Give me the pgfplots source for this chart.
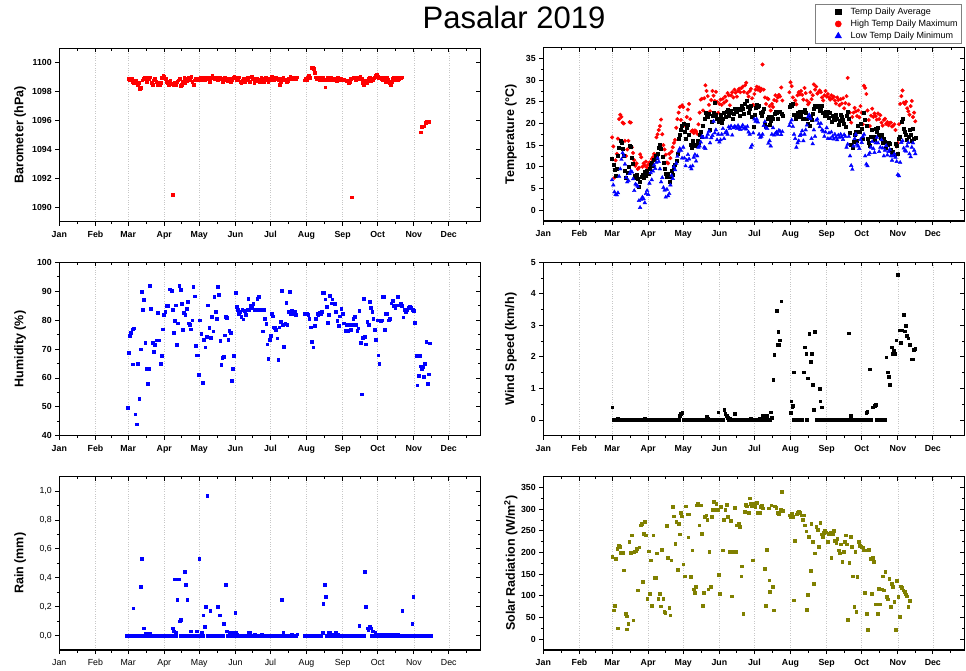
\documentclass[border=0pt]{standalone}
\usepackage{pgfplots}
\pgfplotsset{compat=1.18}
\usepackage{fontspec}
\setmainfont{Liberation Sans}
\definecolor{olv}{RGB}{128,128,0}
\definecolor{rd}{RGB}{255,0,0}
\definecolor{bl}{RGB}{0,0,255}
\pgfplotsset{
 base/.style={scale only axis, width=421pt, height=173.4pt, xmin=0, xmax=361,
   xtick={0,31,59,90,120,151,181,212,243,273,304,334},
   minor xtick={15.5,45,74.5,105,135.5,166,196.5,227.5,258,288.5,319,349.5},
   minor y tick num=1,
   tick style={black, line width=0.8pt},
   major tick length=4pt, minor tick length=2.5pt,
   /pgf/number format/assume math mode=true,
   /pgf/number format/1000 sep={}},
 panel/.style={base,
   xticklabels={Jan,Feb,Mar,Apr,May,Jun,Jul,Aug,Sep,Oct,Nov,Dec},
   xmajorgrids, major grid style={dotted, black!22, line width=0.5pt},
   tick align=outside, xtick pos=left, ytick pos=left,
   axis line style={line width=1.1pt},
   tick label style={font=\bfseries\fontsize{8.8}{10}\selectfont},
   xticklabel style={text height=1.55ex, text depth=0.3ex},
   ylabel style={font=\bfseries\fontsize{12.5}{14}\selectfont, at={(axis description cs:-0.093,0.5)}, anchor=center}},
 rpanel/.style={panel, ylabel style={at={(axis description cs:-0.077,0.5)}}},
 mirror/.style={base, axis line style={draw=none}, tick align=inside, xtick pos=right, ytick pos=right, xticklabels={}, yticklabels={}},
 sq/.style={only marks, mark=square*, mark size=1.35pt},
}
\begin{document}
\begin{tikzpicture}[x=1pt,y=1pt]
\path[use as bounding box] (0,0) rectangle (966,670);
\node[font=\fontsize{31}{36}\selectfont] at (514,653) {Pasalar 2019};
% ---------------- Barometer
\begin{axis}[panel, at={(59.3pt,448.3pt)}, anchor=south west, ymin=1089, ymax=1101, ytick={1090,1092,...,1100}, ylabel={Barometer (hPa)}]
\addplot[sq, color=rd] coordinates {(59,1098.9)(60,1098.85)(61,1098.8)(62,1098.9)(63,1098.7)(64,1098.6)(65,1098.75)(66,1098.8)(67,1098.5)(68,1098.6)(69,1098.2)(70,1098.25)(71,1098.8)(72,1098.9)(73,1099.0)(74,1098.95)(75,1098.7)(76,1099.0)(77,1098.9)(78,1099.0)(79,1098.6)(80,1098.5)(81,1098.8)(82,1098.9)(83,1098.7)(84,1098.5)(85,1098.6)(86,1098.45)(87,1098.6)(88,1098.95)(89,1099.1)(90,1099.05)(91,1098.9)(92,1098.7)(93,1098.6)(94,1098.5)(95,1098.8)(96,1098.55)(97,1090.85)(98,1098.45)(99,1098.6)(100,1098.5)(101,1098.7)(102,1098.8)(103,1098.9)(104,1098.4)(105,1098.5)(106,1098.7)(107,1098.95)(108,1098.6)(109,1098.75)(110,1098.9)(111,1099.0)(112,1098.85)(113,1099.05)(114,1098.7)(115,1098.5)(116,1098.8)(117,1098.9)(118,1098.85)(119,1098.9)(120,1098.8)(121,1099.0)(122,1098.85)(123,1098.9)(124,1098.95)(125,1098.85)(126,1098.9)(127,1099.0)(128,1098.9)(129,1098.7)(130,1098.95)(131,1099.1)(132,1099.0)(133,1098.9)(134,1098.95)(135,1099.0)(136,1098.8)(137,1098.9)(138,1099.0)(139,1098.9)(140,1098.7)(141,1098.85)(142,1099.0)(143,1098.9)(144,1098.75)(145,1098.8)(146,1098.9)(147,1098.7)(148,1098.85)(149,1099.0)(150,1099.05)(151,1098.95)(152,1098.85)(153,1098.9)(154,1099.0)(155,1098.7)(156,1098.6)(157,1098.8)(158,1098.9)(159,1098.65)(160,1098.85)(161,1098.95)(162,1098.8)(163,1098.7)(164,1099.0)(165,1099.05)(166,1098.9)(167,1098.6)(168,1098.8)(169,1098.9)(170,1098.75)(171,1098.85)(172,1098.7)(173,1098.95)(174,1098.8)(175,1098.65)(176,1098.9)(177,1099.0)(178,1098.85)(179,1098.7)(180,1098.9)(181,1098.8)(182,1099.05)(183,1098.95)(184,1098.85)(185,1098.9)(186,1099.0)(187,1098.9)(188,1098.8)(189,1098.5)(190,1098.7)(191,1098.9)(192,1098.95)(193,1098.85)(194,1098.8)(195,1098.7)(196,1098.75)(197,1098.9)(198,1099.05)(199,1099.0)(200,1098.9)(201,1098.95)(202,1099.0)(203,1098.9)(204,1099.0)
(210,1098.8)(211,1098.9)(212,1098.85)(213,1099.0)(214,1099.1)(215,1098.95)(216,1099.65)(217,1099.7)(218,1099.6)(219,1099.3)(220,1099.0)(221,1098.9)(222,1099.0)(223,1098.85)(224,1098.95)(225,1098.9)(226,1099.0)(227,1098.8)(228,1098.3)(229,1098.85)(230,1099.0)(231,1098.9)(232,1098.8)(233,1098.95)(234,1098.85)(235,1098.8)(236,1098.9)(237,1098.8)(238,1098.75)(239,1098.95)(240,1098.8)(241,1098.9)(242,1098.8)(243,1098.8)(244,1098.85)(245,1098.8)(246,1098.75)(247,1098.8)(248,1098.6)(249,1098.65)(250,1098.9)(251,1090.7)(252,1098.95)(253,1099.0)(254,1098.85)(255,1098.95)(256,1099.0)(257,1098.9)(258,1099.05)(259,1098.9)(260,1098.6)(261,1098.5)(262,1098.75)(263,1098.8)(264,1098.6)(265,1098.9)(266,1099.0)(267,1098.75)(268,1098.9)(269,1098.8)(270,1098.95)(271,1099.1)(272,1099.15)(273,1099.05)(274,1098.95)(275,1099.0)(276,1098.9)(277,1098.85)(278,1099.0)(279,1098.8)(280,1098.7)(281,1098.95)(282,1098.85)(283,1098.6)(284,1098.5)(285,1098.7)(286,1098.9)(287,1099.0)(288,1098.85)(289,1098.95)(290,1098.8)(291,1098.9)(292,1099.0)(293,1098.95)(294,1099.0)
(310,1095.2)(311,1095.55)(312,1095.6)(313,1095.6)(314,1095.85)(315,1095.9)(316,1095.9)(317,1095.9)};
\end{axis}
\begin{axis}[mirror, at={(59.3pt,448.3pt)}, anchor=south west, ymin=1089, ymax=1101, ytick={1090,1092,...,1100}]
\end{axis}
% ---------------- Temperature
\begin{axis}[rpanel, at={(543.3pt,449pt)}, anchor=south west, ymin=-2.5, ymax=37.5, ytick={0,5,...,35}, ylabel={Temperature (°C)},
  legend style={at={(0.6446,1.2507)}, anchor=north west, font=\fontsize{9}{10}\selectfont, draw=black!50, line width=0.6pt, inner xsep=2pt, inner ysep=1.5pt, row sep=0pt, cells={anchor=west}},
  legend image code/.code={\path (0pt,0pt) (31pt,0pt); \draw[#1] plot coordinates {(21pt,0pt)};}]
\addlegendimage{only marks, mark=square*, mark size=2.6pt, black}
\addlegendentry{Temp Daily Average}
\addlegendimage{only marks, mark=*, mark size=3pt, rd}
\addlegendentry{High Temp Daily Maximum}
\addlegendimage{only marks, mark=triangle*, mark size=3.6pt, bl}
\addlegendentry{Low Temp Daily Minimum}
\addplot[forget plot, only marks, mark=*, mark size=1.8pt, color=rd] coordinates {(59,16.8)(60,14.7)(61,7.5)(62,11.5)(63,13)(64,16.5)(65,21)(66,22)(67,21.5)(68,20.2)(69,20)(70,16)(71,12.5)(72,14)(73,16)(74,20.3)(75,20.2)(76,14.5)(77,13.2)(78,11.5)(79,10.2)(80,10.8)(81,9.5)(82,9.8)(83,12.9)(84,12.2)(85,10)(86,10.8)(87,10.3)(88,11.2)(89,9.8)(90,10.5)(91,11)(92,10.3)(93,11.8)(94,12.2)(95,13)(96,12.5)(97,16.8)(98,17.5)(99,18.5)(100,19.4)(101,20.9)(102,17.5)(103,15)(104,14)(105,12.8)(106,11)(107,10.8)(108,13)(109,12)(110,13.5)(111,14.5)(112,15.5)(113,16.2)(114,19)(115,21)(116,22.5)(117,23.8)(118,20.8)(119,24.2)(120,23.8)(121,20)(122,19.4)(123,21.5)(124,23.2)(125,24.5)(126,21)(127,18.2)(128,18.4)(129,17.8)(130,18.4)(131,18.2)(132,17.6)(133,19.8)(134,22.5)(135,25.5)(136,25.7)(137,23)(138,25.8)(139,28.8)(140,27.5)(141,26.3)(142,24.3)(143,22.8)(144,25.4)(145,27.5)(146,26.4)(147,25.2)(148,27.3)(149,25)(150,22.5)(151,24.5)(152,25.5)(153,24.3)(154,25.7)(155,24.8)(156,26.2)(157,25.2)(158,27)(159,26.5)(160,24.2)(161,26.5)(162,27.2)(163,26)(164,27.8)(165,27.1)(166,26.2)(167,27.5)(168,28)(169,27.2)(170,28.2)(171,28.5)(172,27.3)(173,28.8)(174,29.4)(175,27)(176,26.2)(177,27.5)(178,28)(179,25.8)(180,24.3)(181,26.8)(182,27.8)(183,28.5)(184,27.8)(185,28.3)(186,27.5)(187,28)(188,33.6)(189,27.8)(190,26)(191,24.5)(192,25.8)(193,25.6)(194,24)(195,23)(196,24.5)(197,23.8)(198,25.4)(199,26.5)(200,25.2)(201,26)(202,26.6)(203,26.2)(204,28.3)(205,25.3)(211,27.2)(212,29.5)(213,28.6)(214,26)(215,24.5)(216,25.3)(217,24.4)(218,26.5)(219,27.2)(220,26.7)(221,27.5)(222,26.6)(223,25.5)(224,28.2)(225,27)(226,25.3)(227,24.4)(228,24.8)(229,27.2)(230,25.6)(231,26.5)(232,29)(233,27.8)(234,28.5)(235,26.9)(236,27.2)(237,27.6)(238,27.2)(239,26)(240,25.3)(241,26.5)(242,27.5)(243,26.2)(244,26.8)(245,26)(246,25.5)(247,26.5)(248,25.8)(249,26.2)(250,25.3)(251,24.6)(252,26)(253,25.4)(254,24.2)(255,25.6)(256,24.6)(257,25.8)(258,23.5)(259,24.7)(260,26.3)(261,30.5)(262,24.4)(263,22.5)(264,20.2)(265,21.5)(266,22.5)(267,23.6)(268,22.8)(269,21.7)(270,23)(271,21.4)(272,24)(273,22.5)(274,19.8)(275,28.7)(276,28.2)(277,26.8)(278,23)(279,20.8)(280,19.4)(281,21.8)(282,23.4)(283,21.5)(284,22.3)(285,21.7)(286,20.9)(287,22.3)(288,21)(289,21.9)(290,20.2)(291,19.5)(292,20.8)(293,21.1)(294,19.9)(295,20.3)(296,19.6)(297,20.1)(298,20.2)(299,19.3)(300,19.5)(301,19.8)(302,18.5)(303,14.7)(304,15.5)(305,19.8)(306,24.5)(307,26.3)(308,27.6)(309,24.8)(310,24.5)(311,25)(312,23.5)(313,22.8)(314,22)(315,24)(316,25.2)(317,21.5)(318,22.5)(319,20.5)};
\addplot[forget plot, only marks, mark=square*, mark size=1.5pt, color=black] coordinates {(59,11.8)(60,10.5)(61,9.3)(62,8)(63,9.5)(64,12.5)(65,14.5)(66,16)(67,15.5)(68,14.2)(69,12.6)(70,9)(71,7.5)(72,8.6)(73,10)(74,14.8)(75,14.6)(76,12)(77,10.8)(78,8)(79,7.6)(80,8.2)(81,7.2)(82,5.5)(83,6.5)(84,7.8)(85,8.2)(86,7.5)(87,8.8)(88,8)(89,9.2)(90,8.5)(91,9.5)(92,10.5)(93,11)(94,10.2)(95,11.6)(96,12.5)(97,12.2)(98,13)(99,14.5)(100,15)(101,14.2)(102,12.3)(103,11)(104,9.5)(105,8.5)(106,7.8)(107,8.5)(108,6.5)(109,7.7)(110,9)(111,8.2)(112,10)(113,10.5)(114,11.5)(115,13)(116,16.5)(117,17.5)(118,18.5)(119,19.5)(120,20)(121,18)(122,16.5)(123,19)(124,19.6)(125,17.5)(126,15)(127,14.5)(128,16)(129,15)(130,14.8)(131,15.2)(132,16)(133,15.5)(134,17.5)(135,18)(136,17)(137,19.5)(138,21)(139,22.5)(140,22)(141,21.5)(142,22.3)(143,18.5)(144,20.5)(145,21.8)(146,22.5)(147,24.7)(148,22)(149,21)(150,20.5)(151,21.2)(152,22)(153,20.2)(154,21)(155,22.4)(156,21.5)(157,22.6)(158,23.2)(159,21.8)(160,22.5)(161,23)(162,21)(163,22.2)(164,23.4)(165,22.8)(166,22.6)(167,23.5)(168,21.8)(169,23.2)(170,24)(171,23.4)(172,22.2)(173,24.5)(174,25.2)(175,23.8)(176,22.5)(177,23.5)(178,24.2)(179,21.5)(180,19.2)(181,22)(182,23.6)(183,24.3)(184,23.8)(185,24)(186,22.5)(187,21.7)(188,22.8)(189,23.5)(190,20)(191,19.2)(192,21)(193,21.5)(194,19.8)(195,20.6)(196,21.5)(197,21.2)(198,22.3)(199,22.8)(200,22.5)(201,21)(202,22.6)(203,22.7)(204,22.2)(205,21.8)(211,23.8)(212,24.4)(213,24)(214,24.6)(215,22)(216,21)(217,21.5)(218,22.5)(219,21.5)(220,22.6)(221,22)(222,21)(223,22.7)(224,23.1)(225,22.5)(226,21.2)(227,20)(228,19.5)(229,21.4)(230,20.8)(231,22.3)(232,23.5)(233,24.2)(234,24)(235,23.8)(236,24.2)(237,22.9)(238,23.3)(239,24.1)(240,22.5)(241,21.8)(242,22.8)(243,22)(244,22.6)(245,21.3)(246,22.5)(247,20.5)(248,21.9)(249,21.2)(250,20.8)(251,22)(252,21.2)(253,19.8)(254,20.6)(255,22)(256,21.5)(257,20.8)(258,20)(259,19.2)(260,21.7)(261,22.6)(262,21)(263,17.8)(264,15)(265,14.5)(266,15.8)(267,17.5)(268,18.2)(269,16)(270,19.5)(271,18)(272,20)(273,18.7)(274,16.5)(275,22.4)(276,20.8)(277,19.5)(278,16.5)(279,15.5)(280,14.8)(281,17)(282,18.5)(283,17)(284,16.3)(285,18.8)(286,18)(287,19)(288,17.5)(289,16.8)(290,17.5)(291,15.5)(292,16.5)(293,15.8)(294,14.5)(295,15)(296,15.6)(297,15.3)(298,14)(299,13.2)(300,13.6)(301,12.8)(302,15.3)(303,14.8)(304,13)(305,16.5)(306,17)(307,20.5)(308,21)(309,18.8)(310,18)(311,17.5)(312,16.2)(313,17)(314,18.5)(315,17.5)(316,16)(317,18.8)(318,16.5)(319,16.8)};
\addplot[forget plot, only marks, mark=triangle*, mark size=2.1pt, color=bl] coordinates {(59,7)(60,5.8)(61,4.2)(62,3.6)(63,3.5)(64,4)(65,7.8)(66,9.5)(67,11.7)(68,13.2)(69,12.5)(70,10.6)(71,7.5)(72,6.5)(73,6.8)(74,8.4)(75,9)(76,8.8)(77,7.2)(78,4.5)(79,6)(80,5.8)(81,5.5)(82,2.2)(83,0.6)(84,2.5)(85,3)(86,2.6)(87,1.7)(88,3.8)(89,4.5)(90,3.6)(91,6.2)(92,8.6)(93,7)(94,9)(95,10.4)(96,9.6)(97,11)(98,12)(99,11.2)(100,9.5)(101,6.5)(102,7.5)(103,5.2)(104,4.6)(105,3)(106,4.8)(107,3.3)(108,3.8)(109,5.8)(110,8)(111,7.3)(112,10)(113,9.3)(114,10.8)(115,12.4)(116,13.6)(117,14.2)(118,13.8)(119,12)(120,14.5)(121,12)(122,10.2)(123,11.5)(124,12.8)(125,11.8)(126,10)(127,9.5)(128,10.2)(129,12.2)(130,12.8)(131,11.3)(132,12.5)(133,14.5)(134,14.8)(135,15.7)(136,17)(137,16.8)(138,14.5)(139,14.2)(140,16.8)(141,17.5)(142,18.2)(143,15.5)(144,16.7)(145,17.2)(146,20.5)(147,17.8)(148,18.5)(149,16.2)(150,17.5)(151,15.7)(152,16.2)(153,17.5)(154,18.8)(155,16.5)(156,17.8)(157,18.2)(158,17.5)(159,19.2)(160,18.8)(161,19.4)(162,17.3)(163,19)(164,19.3)(165,19.2)(166,18.8)(167,19.5)(168,19)(169,18.6)(170,19.2)(171,19.6)(172,18.8)(173,19.1)(174,18.7)(175,19.3)(176,18)(177,17.5)(178,14.5)(179,15)(180,17.8)(181,21)(182,20.5)(183,21)(184,20.3)(185,17.5)(186,16.8)(187,17)(188,17.5)(189,19.5)(190,20.4)(191,19)(192,18.8)(193,15.4)(194,16)(195,14.8)(196,17.5)(197,19)(198,17.3)(199,17.7)(200,18)(201,17.5)(202,18.4)(203,18.2)(204,17.4)(205,18.1)(211,19.5)(212,20.2)(213,20.8)(214,19.3)(215,17.5)(216,16.5)(217,14.5)(218,15.5)(219,16)(220,17.2)(221,17.5)(222,18.3)(223,16)(224,17.5)(225,18.5)(226,19.6)(227,21.5)(228,22)(229,21.2)(230,16.5)(231,15.3)(232,18.5)(233,17)(234,20.7)(235,21)(236,20)(237,19.2)(238,20)(239,18.5)(240,18.2)(241,17)(242,18)(243,19)(244,16.5)(245,17.8)(246,16.5)(247,18)(248,17)(249,16.4)(250,17.5)(251,16.8)(252,16.2)(253,17.3)(254,16.8)(255,17.5)(256,16.9)(257,16.3)(258,17.4)(259,17)(260,14.5)(261,15.2)(262,17)(263,12.5)(264,10.3)(265,9.4)(266,14.8)(267,16.5)(268,17.5)(269,15.2)(270,14.8)(271,14.2)(272,16.3)(273,15.6)(274,17)(275,17.5)(276,12.5)(277,10.6)(278,10.2)(279,12.8)(280,13.2)(281,14.5)(282,15.8)(283,14.2)(284,13.3)(285,15.5)(286,16.8)(287,15.5)(288,13.5)(289,14.5)(290,16.2)(291,14.3)(292,12.5)(293,13.8)(294,14.9)(295,12.7)(296,13.5)(297,14)(298,12.5)(299,11.5)(300,12.5)(301,13)(302,12.2)(303,11.2)(304,8.2)(305,7.9)(306,11)(307,15.6)(308,16)(309,14.3)(310,13.8)(311,13.6)(312,14.8)(313,15.6)(314,13)(315,12.3)(316,14.5)(317,15.5)(318,13.8)(319,13)};
\end{axis}
\begin{axis}[mirror, at={(543.3pt,449pt)}, anchor=south west, ymin=-2.5, ymax=37.5, ytick={0,5,...,35}]
\end{axis}
% ---------------- Humidity
\begin{axis}[panel, at={(59.3pt,234.3pt)}, anchor=south west, ymin=40, ymax=100, ytick={40,50,...,100}, ylabel={Humidity (\%)}]
\addplot[sq, color=bl] coordinates {(58.6,49.8)(59.7,68.7)(60.6,74.5)(61.4,75.7)(62.9,76.9)(64,77.2)(62.9,64.7)(65.1,47.4)(66.3,44)(67.4,65)(68.6,52.9)(69.7,69.9)(70.6,89.8)(71.4,83.7)(72.6,87)(73.7,72.2)(74.9,63.3)(75.7,58.1)(76.6,63.3)(77.7,91.8)(78.6,84)(80,72.2)(81,69)(82,71.4)(83.4,73)(84.6,82.6)(85.7,73)(86.9,65)(88,67.6)(88.6,76.9)(89.7,81.8)(90.9,82.9)(92,84.9)(93.4,84.9)(94.9,90.7)(96.3,90.2)(97.1,83.7)(98,75.7)(98.9,79.8)(99.7,85.2)(100.6,71.4)(101.7,78.9)(102.9,91.8)(104,90.4)(104.9,85.6)(105.7,76.8)(106.9,82.6)(108,81.8)(109.1,84)(110,86.4)(110.9,78.9)(112,78.3)(112.9,76.9)(114,80)(114.9,91.6)(116,88.3)(117.1,71.2)(117.7,67.9)(118.9,67.9)(119.4,61)(120.6,80)(121.7,75.4)(122.9,58.3)(124,73.3)(125.1,70.6)(126.3,74.3)(127.4,85.2)(128.6,77.3)(129.7,74)(130.9,81.2)(132,76.2)(132.9,88.1)(134,82.9)(134.9,80.6)(136,91.6)(136.9,88.7)(138,72.9)(138.9,64.5)(139.7,67.1)(140.9,67.3)(141.7,74.8)(142.9,81.2)(143.7,80.8)(144.9,73.3)(145.7,76.3)(146.9,75.7)(148,59)(148.9,63.1)(149.7,67.7)(151.4,89.5)(152,84.7)(152.9,83.5)(153.7,82.3)(154.9,82.9)(156,81.2)(156.9,83.7)(157.7,80.3)(158.9,83.3)(160,81.8)(161.1,83.7)(162,87.5)(162.9,83.7)(164,84.9)(165.1,84.4)(166.3,85.6)(167.4,83.5)(168.6,83.5)(169.7,87.5)(170.9,88.1)(172,83.5)(173.1,83.5)(174.3,76.2)(175.4,83.5)(176.3,80.6)(177.4,78.7)(178.3,71.7)(179.1,66.7)(180.3,73.3)(181.1,74.5)(182,82.3)(182.9,81.4)(184,77.5)(184.9,77.3)(185.7,76.8)(186.9,73.7)(187.7,66.4)(188.6,77.5)(189.7,79.5)(190.9,90.2)(191.7,78.3)(192.6,70.8)(193.7,78.7)(194.6,86)(195.4,78.3)(196.6,82.9)(197.4,89.8)(198.3,82)(199.4,83.3)(200.6,82.1)(201.7,82.8)(202.9,81.9)(210.6,82.3)(212,82.1)(213.4,81.8)(214.3,80.6)(215.4,77.5)(216.6,72.5)(217.7,70.6)(218.9,78)(220,80.6)(221.1,82.1)(222,81.8)(222.9,82.6)(224,82.3)(225.1,82.9)(226,89.6)(226.9,89.6)(228,87.2)(229.1,84.7)(230,79.1)(230.9,81.8)(232,88.5)(233.1,85.8)(234,87.2)(234.9,85.8)(236,85.6)(237.1,82.9)(238.3,79.8)(239.4,78)(240.6,81.4)(241.7,84)(242.9,82.3)(244,78.9)(245.1,76.3)(246.3,78.3)(247.4,76.3)(248.6,78.3)(249.7,76.8)(250.9,78.3)(252,80.6)(253.1,81.2)(254.3,78.3)(255.4,76.3)(256.3,77.2)(257.1,83.3)(258.3,72.2)(259.4,54.4)(260.3,74)(261.1,87.5)(262,74.3)(262.9,71.7)(264,79.5)(265.1,78.3)(266.3,86.4)(267.1,84.4)(268.3,82.9)(269.1,80.6)(270.3,76.6)(271.4,73.3)(272.6,80)(273.4,67.9)(274.3,65)(275.4,79.8)(276.6,80)(277.4,88.1)(278.3,88.1)(279.1,76.6)(280,82.3)(281.1,82.1)(282.3,80)(283.4,80.6)(284.6,85.8)(285.7,86.7)(286.9,84.9)(288,84.4)(289.1,85.2)(290.3,88.1)(291.4,85.2)(292.6,85.6)(293.7,84.9)(294.9,81)(296,83.5)(297.1,82.9)(298.3,83.7)(299.4,84.4)(300.6,84.7)(301.7,84.4)(302.9,83.5)(304,83.2)(304.9,79.1)(306,67.6)(306.9,57.5)(308,60.7)(309.1,67.6)(309.7,64.1)(310.6,63.3)(311.4,63.9)(312.6,60.4)(313.4,64.8)(314.6,72.5)(315.7,57.9)(316.6,61.3)(317.7,72)};
\end{axis}
\begin{axis}[mirror, at={(59.3pt,234.3pt)}, anchor=south west, ymin=40, ymax=100, ytick={40,50,...,100}]
\end{axis}
% ---------------- Wind speed
\begin{axis}[rpanel, at={(543.3pt,234.3pt)}, anchor=south west, ymin=-0.5, ymax=5, ytick={0,1,...,5}, ylabel={Wind Speed (km/h)}]
\addplot[sq, color=black] coordinates {(60,0)(61,0)(62,0)(63,0)(64,0)(65,0)(66,0)(67,0)(68,0)(69,0)(70,0)(71,0)(72,0)(73,0)(74,0)(75,0)(76,0)(77,0)(78,0)(79,0)(80,0)(81,0)(82,0)(83,0)(84,0)(85,0)(86,0)(87,0)(88,0)(89,0)(90,0)(91,0)(92,0)(93,0)(94,0)(95,0)(96,0)(97,0)(98,0)(99,0)(100,0)(101,0)(102,0)(103,0)(104,0)(105,0)(106,0)(107,0)(108,0)(109,0)(110,0)(111,0)(112,0)(113,0)(114,0)(115,0)(116,0)(120,0)(121,0)(122,0)(123,0)(124,0)(125,0)(126,0)(127,0)(128,0)(129,0)(130,0)(131,0)(132,0)(133,0)(134,0)(135,0)(136,0)(137,0)(138,0)(139,0)(142,0)(143,0)(144,0)(145,0)(146,0)(147,0)(148,0)(149,0)(151,0)(152,0)(153,0)(154,0)(159,0)(161,0)(162,0)(163,0)(165,0)(166,0)(167,0)(168,0)(169,0)(170,0)(171,0)(172,0)(173,0)(174,0)(175,0)(176,0)(177,0)(179,0)(180,0)(181,0)(182,0)(183,0)(184,0)(186,0)(187,0)(189,0)(191,0)(193,0)(194,0)(215,0)(216,0)(217,0)(218,0)(219,0)(220,0)(221,0)(222,0)(226,0)(234,0)(235,0)(236,0)(238,0)(240,0)(241,0)(242,0)(243,0)(244,0)(245,0)(246,0)(247,0)(248,0)(249,0)(250,0)(251,0)(252,0)(253,0)(254,0)(255,0)(256,0)(257,0)(258,0)(259,0)(260,0)(261,0)(264,0)(265,0)(266,0)(267,0)(268,0)(269,0)(270,0)(271,0)(272,0)(273,0)(274,0)(275,0)(276,0)(278,0)(279,0)(281,0)(286,0)(287,0)(288,0)(289,0)(290,0)(291,0)(292,0)(293,0)
(59,0.4)(64,0.05)(87,0.05)(117,0.14)(118,0.19)(119,0.22)(140,0.12)(141,0.05)(150,0.25)(155,0.32)(156,0.19)(157,0.14)(158,0.08)(160,0.03)(164,0.19)(178,0.05)(185,0.05)(188,0.14)(190,0.14)(192,0.14)(195,0.25)(196,0.08)(197,1.27)(198,2.06)(200,3.46)(201,2.38)(201.5,2.79)(202,2.38)(203,2.53)(204,3.77)(212,0.24)(212.6,0.59)(213.5,0.4)(214,0.45)(215,1.51)(223,1.51)(224,2.31)(225.5,2.11)(227,1.32)(228,2.73)(229,1.85)(230,2.11)(231,1.12)(232,0.32)(233,2.79)(237,1.0)(237.5,0.59)(239,0.4)(262,2.75)(263.5,0.14)(277,0.22)(277.8,0.27)(280,1.61)(282.6,0.4)(284,0.45)(285,0.49)(294,1.99)(295.5,1.51)(296,1.37)(297,1.12)(298.6,2.31)(299.5,2.11)(300.3,2.2)(301.4,2.11)(302.6,2.53)(304,4.6)(305.5,2.85)(306.6,2.46)(307.5,2.85)(309,3.33)(309.7,2.81)(311,2.98)(311.7,2.67)(312.9,2.59)(314,2.38)(315.4,1.93)(316.6,1.93)(317.7,2.23)(318.9,2.27)};
\end{axis}
\begin{axis}[mirror, at={(543.3pt,234.3pt)}, anchor=south west, ymin=-0.5, ymax=5, ytick={0,1,...,5}]
\end{axis}
% ---------------- Rain
\begin{axis}[panel, at={(59.3pt,20pt)}, anchor=south west, ymin=-0.1, ymax=1.1, ytick={0,0.2,0.4,0.6,0.8,1.0}, ylabel={Rain (mm)},
  yticklabel style={/pgf/number format/.cd, use comma, fixed, fixed zerofill, precision=1},
  tick label style={font=\fontsize{8.8}{10}\selectfont}]
\addplot[sq, color=bl] coordinates {(58,0)(59,0)(60,0)(61,0)(62,0)(63,0)(64,0)(65,0)(66,0)(67,0)(68,0)(69,0)(70,0)(71,0)(72,0)(73,0)(74,0)(75,0)(76,0)(77,0)(78,0)(79,0)(80,0)(81,0)(82,0)(83,0)(84,0)(85,0)(86,0)(87,0)(88,0)(89,0)(90,0)(91,0)(92,0)(93,0)(94,0)(95,0)(96,0)(99,0)(100,0)(104,0)(105,0)(106,0)(109,0)(110,0)(111,0)(113,0)(114,0)(115,0)(116,0)(118,0)(119,0)(121,0)(123,0)(127,0)(128,0)(130,0)(131,0)(132,0)(133,0)(134,0)(136,0)(138,0)(139,0)(140,0)(144,0)(145,0)(148,0)(149,0)(150,0)(153,0)(154,0)(155,0)(156,0)(157,0)(158,0)(159,0)(160,0)(161,0)(164,0)(165,0)(166,0)(168,0)(169,0)(170,0)(171,0)(172,0)(174,0)(175,0)(176,0)(177,0)(178,0)(179,0)(180,0)(181,0)(182,0)(183,0)(184,0)(185,0)(186,0)(187,0)(188,0)(189,0)(190,0)(193,0)(194,0)(195,0)(196,0)(197,0)(198,0)(200,0)(201,0)(202,0)(203,0)(210,0)(211,0)(212,0)(213,0)(214,0)(215,0)(216,0)(217,0)(218,0)(219,0)(220,0)(221,0)(222,0)(223,0)(224,0)(229,0)(231,0)(234,0)(235,0)(236,0)(238,0)(240,0)(241,0)(242,0)(243,0)(244,0)(245,0)(246,0)(247,0)(248,0)(249,0)(250,0)(251,0)(252,0)(253,0)(254,0)(255,0)(256,0)(258,0)(259,0)(260,0)(261,0)(268,0)(270,0)(272,0)(273,0)(275,0)(277,0)(279,0)(281,0)(283,0)(285,0)(287,0)(289,0)(291,0)(292,0)(293,0)(295,0)(296,0)(297,0)(298,0)(299,0)(300,0)(301,0)(304,0)(305,0)(306,0)(307,0)(308,0)(309,0)(310,0)(311,0)(312,0)(313,0)(314,0)(315,0)(316,0)(317,0)(318,0)(319,0)
(63.4,0.19)(69.7,0.34)(70.6,0.53)(72.6,0.05)(74.3,0.015)(77.7,0.015)(97,0.05)(98,0.03)(99.7,0.02)(98.9,0.39)(101,0.25)(102.6,0.39)(103.4,0.1)(104.3,0.11)(107.4,0.44)(108.3,0.35)(109.7,0.25)(112.6,0.03)(117.7,0.03)(120,0.53)(122,0.02)(123.4,0.14)(124.6,0.06)(125.7,0.2)(126.9,0.97)(129.4,0.17)(135.7,0.2)(137.4,0.14)(141,0.08)(142.6,0.35)(143.4,0.03)(146.3,0.02)(147.7,0.02)(150.9,0.16)(151.4,0.02)(152.6,0.01)(162,0.02)(163.4,0.02)(167.7,0.01)(173.4,0.01)(190.9,0.25)(192,0.02)(199,0.01)(204,0.01)(225.7,0.02)(226.3,0.22)(227.7,0.35)(228.6,0.27)(230.6,0.02)(232,0.02)(233.4,0.01)(237.1,0.02)(239,0.01)(257.1,0.07)(262,0.44)(262.9,0.2)(264,0.05)(265,0.04)(266.3,0.06)(267.4,0.05)(269,0.03)(271,0.02)(274,0.01)(276,0.01)(278,0.01)(280,0.01)(282,0.01)(284,0.01)(286,0.01)(288,0.01)(290,0.01)(294,0.17)(302.6,0.08)(303.4,0.27)};
\end{axis}
\begin{axis}[mirror, at={(59.3pt,20pt)}, anchor=south west, ymin=-0.1, ymax=1.1, ytick={0,0.2,0.4,0.6,0.8,1.0}]
\end{axis}
% ---------------- Solar radiation
\begin{axis}[rpanel, at={(543.3pt,20pt)}, anchor=south west, ymin=-25, ymax=375, ytick={0,50,...,350}, ylabel={Solar Radiation (W/m$^{\mathbf{2}}$)}]
\addplot[sq, color=olv] coordinates {(59.1,190)(60.5,67)(61.4,78)(62.2,186)(63.7,25)(63.4,209)(64.8,217)(65.7,213)(66.5,199)(67.9,199)(69,159)(70.5,58)(71.4,53)(71.4,23)(72.8,35)(73.7,225)(75,199)(76,240)(77,44)(78,202)(79,203)(80,209)(81,113)(82.2,212)(83.4,263)(84.2,267)(85,132)(86.2,244)(87,271)(88,240)(89,94)(90.2,203)(91.3,105)(92.2,182)(93,78)(94.2,240)(95.3,142)(96.5,142)(97.3,198)(98.5,94)(99.6,105)(100.5,76)(101.6,207)(102.8,94)(103.6,63)(104.5,61)(105.6,261)(106.8,188)(107.9,73)(108.7,55)(109.6,182)(110.8,305)(111.9,284)(113,221)(113.9,271)(115,161)(115.9,267)(117,242)(117.9,292)(118.8,284)(119.9,173)(121,145)(122.2,307)(123.3,288)(124.2,235)(125,288)(126.5,144)(127.6,205)(128.7,115)(129.6,107)(130.7,121)(131.3,309)(132.5,312)(133.6,263)(134.7,309)(135.6,244)(136.5,78)(137.6,107)(138.5,282)(139.6,286)(140.5,275)(141.3,115)(142.2,202)(143.3,121)(144.2,282)(145,299)(146.2,317)(147,299)(148.2,312)(149.3,299)(150.4,148)(151.3,105)(152.4,305)(153.6,205)(154.7,276)(155.9,298)(157,311)(158.2,282)(159.3,202)(160.4,273)(161.6,99)(162.7,202)(164.1,304)(165,202)(166.1,263)(167.3,267)(168.4,259)(169.6,145)(170.4,168)(171.3,58)(172.4,294)(173.6,311)(174.7,307)(175.9,292)(177,325)(177.9,313)(178.7,307)(179.8,182)(180.7,313)(181.8,305)(182.9,315)(184.1,292)(185.3,292)(186.1,305)(187.3,309)(188.4,302)(189.6,163)(190.7,78)(191.8,207)(193,302)(193.6,136)(194.4,109)(195.5,309)(196.4,121)(197.5,67)(198.4,307)(199.8,304)(201,292)(202.1,290)(203.3,298)(204.4,340)(205.5,296)(211.2,286)(212.1,282)(213,290)(214.1,282)(215,90)(215.8,227)(217,288)(218.1,292)(219.2,294)(220.4,292)(221.5,286)(222.7,276)(223.5,286)(224.4,263)(225.5,249)(226.1,68)(226.9,102)(227.8,236)(229,158)(229.8,267)(230.7,225)(231.8,128)(233,198)(234.1,259)(235.2,252)(236.4,213)(237.5,268)(238.6,242)(239.8,236)(240.6,245)(241.5,250)(242.6,247)(243.8,225)(244.9,244)(246.1,245)(246.9,188)(248.1,242)(248.9,250)(250.1,227)(251.2,222)(252.1,232)(253.2,205)(254.1,198)(255.2,219)(256.3,178)(257.5,202)(258.3,225)(259.5,240)(260.4,219)(261.2,45)(262.4,176)(263.5,236)(264.6,213)(265.5,145)(266.6,75)(267.5,202)(268.3,63)(269.2,144)(270.3,225)(271.5,215)(272.6,213)(273.8,212)(274.6,205)(275.8,107)(276.6,205)(277.5,59)(278.3,22)(279.2,207)(280.3,186)(281.5,105)(282.6,188)(283.5,178)(284.6,81)(285.7,81)(286.6,58)(287.8,117)(288.9,81)(290,115)(290.9,145)(292,113)(293.2,155)(294.3,98)(295.5,92)(296.6,140)(297.7,75)(298.6,128)(299.7,121)(300.9,86)(302,22)(303.2,135)(304.3,98)(305.5,52)(306.3,122)(307.5,119)(308.6,113)(309.7,109)(310.9,104)(311.7,99)(312.9,75)(314,88)};
\end{axis}
\begin{axis}[mirror, at={(543.3pt,20pt)}, anchor=south west, ymin=-25, ymax=375, ytick={0,50,...,350}]
\end{axis}
\end{tikzpicture}
\end{document}
